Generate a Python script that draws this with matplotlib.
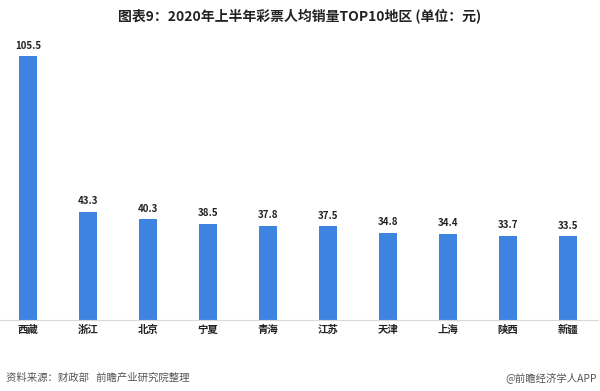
import numpy as np
import matplotlib.pyplot as plt

plt.rcParams['font.family'] = ['Noto Sans CJK SC', 'DejaVu Sans']

regions = ["西藏", "浙江", "北京", "宁夏", "青海", "江苏", "天津", "上海", "陕西", "新疆"]
sales = [105.5, 43.3, 40.3, 38.5, 37.8, 37.5, 34.8, 34.4, 33.7, 33.5]

fig = plt.figure(figsize=(6, 3.91), dpi=100)
ax = fig.add_axes([-2 / 600, 1 - 320 / 391, 1.0, 280 / 391])

x = np.arange(len(regions))
ax.bar(x, sales, width=0.3, color="#3f83e0")
for xi, v in zip(x, sales):
    ax.annotate(f"{v}", (xi, v), xytext=(0, 4), textcoords="offset points",
                ha="center", va="bottom", fontsize=7, fontweight="bold", color="#222222")

ax.set_xlim(-0.5, len(regions) - 0.5)
ax.set_ylim(0, 112)
ax.set_yticks([])
ax.set_xticks(x)
ax.set_xticklabels(regions, fontsize=7.5, fontweight="bold", color="#222222")
ax.tick_params(axis="x", length=0, pad=3.5)
for s in ["top", "right", "left"]:
    ax.spines[s].set_visible(False)
ax.spines["bottom"].set_color("#d9d9d9")

fig.text(0.5, 1 - 17 / 391, "图表9：2020年上半年彩票人均销量TOP10地区 (单位：元)",
         ha="center", va="center", fontsize=10, fontweight="bold", color="#222222")
fig.text(0.01, 1 - 378 / 391, "资料来源：财政部   前瞻产业研究院整理",
         ha="left", va="center", fontsize=7.5, color="#555555")
fig.text(0.995, 1 - 378 / 391, "@前瞻经济学人APP",
         ha="right", va="center", fontsize=7.5, color="#555555")

fig.savefig("out.png", dpi=100)
